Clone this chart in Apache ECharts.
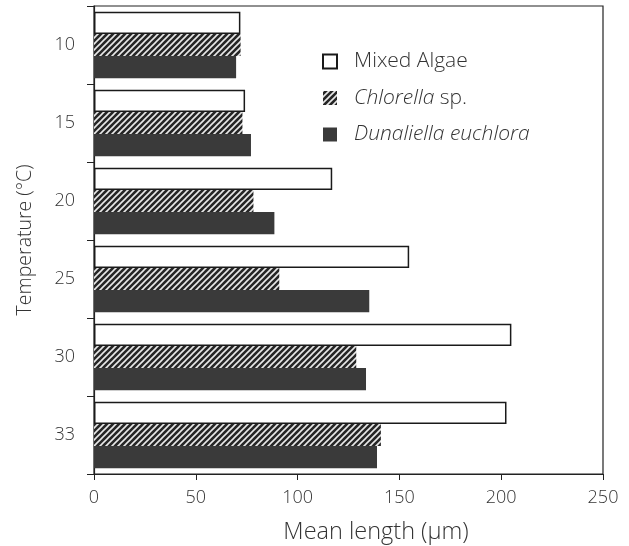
<!DOCTYPE html>
<html><head><meta charset="utf-8">
<script src="https://cdn.jsdelivr.net/npm/echarts@6/dist/echarts.min.js"></script>
<style>html,body{margin:0;padding:0;background:#fff}#c{width:629px;height:546px}</style>
</head><body><div id="c"></div>
<script>
const categories = ['10', '15', '20', '25', '30', '33'];
const mixedAlgae = [71.9, 74.2, 117, 154.8, 205, 202.6];
const chlorella = [72, 72.9, 78.3, 91, 128.8, 140.9];
const dunaliella = [69.8, 77.1, 88.6, 135.2, 133.6, 139];
const xTicks = [0, 50, 100, 150, 200, 250];

function hatch() {
  const c = document.createElement('canvas');
  c.width = 6; c.height = 6;
  const g = c.getContext('2d');
  g.fillStyle = '#262626';
  g.fillRect(0, 0, 6, 6);
  g.strokeStyle = '#e8e8e8';
  g.lineWidth = 1.6;
  g.beginPath();
  g.moveTo(-1, 7); g.lineTo(7, -1);
  g.moveTo(-4, 4); g.lineTo(4, -4);
  g.moveTo(2, 10); g.lineTo(10, 2);
  g.stroke();
  return c;
}

const font = 'Open Sans';
const txt = '#333';
const chart = echarts.init(document.getElementById('c'));
chart.setOption({
  animation: false,
  backgroundColor: '#fff',
  grid: { left: 94, right: 26, top: 6, bottom: 72, show: true, borderColor: '#222', borderWidth: 1.2,
    outerBoundsMode: 'none', containLabel: false },
  legend: {
    left: 317, top: 46, orient: 'vertical', itemWidth: 14, itemHeight: 14, itemGap: 15.5,
    icon: 'rect',
    textStyle: { fontFamily: font, fontWeight: 300, fontSize: 21, color: txt, padding: [0, 0, 0, 12],
      rich: { i: { fontStyle: 'italic', fontWeight: 300, fontFamily: font, fontSize: 21, color: txt } } },
    formatter: function (n) {
      if (n === 'Chlorella sp.') return '{i|Chlorella} sp.';
      if (n === 'Dunaliella euchlora') return '{i|Dunaliella euchlora}';
      return n;
    },
    data: ['Mixed Algae', 'Chlorella sp.', 'Dunaliella euchlora']
  },
  xAxis: {
    type: 'value', min: 0, max: 250, interval: 50,
    name: 'Mean length (μm)', nameLocation: 'middle', nameGap: 46,
    nameTextStyle: { fontFamily: font, fontWeight: 300, fontSize: 23.5, color: txt, padding: [0, 0, 0, 55] },
    axisLine: { show: true, lineStyle: { color: '#222', width: 1.2 } },
    axisTick: { show: true, length: 6, lineStyle: { color: '#222' } },
    axisLabel: { fontFamily: font, fontWeight: 300, fontSize: 18, color: txt, margin: 15,
      formatter: function (v) { return xTicks.indexOf(v) >= 0 ? String(v) : ''; } },
    splitLine: { show: false }
  },
  yAxis: {
    type: 'category', data: categories, inverse: true,
    name: 'Temperature (°C)', nameLocation: 'middle', nameGap: 59,
    nameTextStyle: { fontFamily: font, fontWeight: 300, fontSize: 19.5, color: txt },
    axisLine: { show: true, lineStyle: { color: '#222', width: 1.2 } },
    axisTick: { show: true, length: 7, lineStyle: { color: '#222' } },
    axisLabel: { fontFamily: font, fontWeight: 300, fontSize: 18, color: txt, margin: 19 },
    splitLine: { show: false }
  },
  series: [
    { name: 'Mixed Algae', type: 'bar', data: mixedAlgae, barGap: '0%', barCategoryGap: '15%',
      itemStyle: { color: '#fff', borderColor: '#1a1a1a', borderWidth: 1.5 } },
    { name: 'Chlorella sp.', type: 'bar', data: chlorella, barGap: '0%', barCategoryGap: '15%',
      itemStyle: { color: { image: hatch(), repeat: 'repeat' } } },
    { name: 'Dunaliella euchlora', type: 'bar', data: dunaliella, barGap: '0%', barCategoryGap: '15%',
      itemStyle: { color: '#3a3a3a' } }
  ]
});
</script></body></html>
